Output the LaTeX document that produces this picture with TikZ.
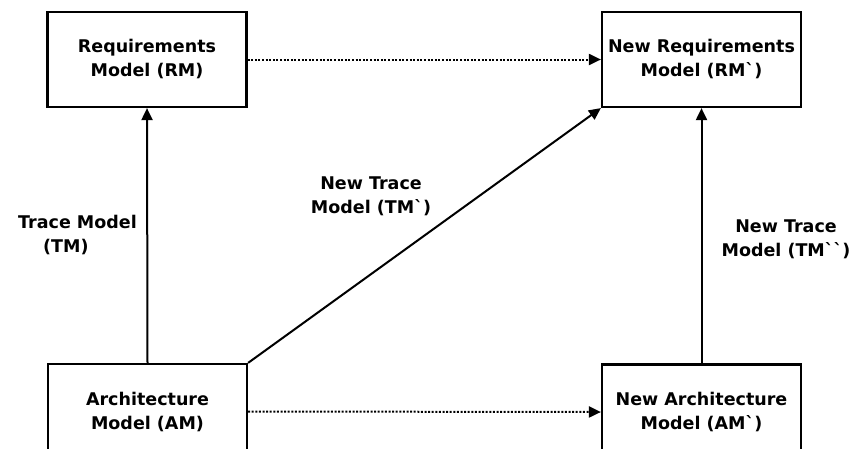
\documentclass[tikz,border=0pt]{standalone}
\usepackage{fontspec}
\setmainfont{DejaVu Sans}[Ligatures=TeXOff]
\usetikzlibrary{arrows.meta}
\begin{document}
\begin{tikzpicture}[x=1pt,y=-1pt,
  font=\fontsize{17.5}{24}\selectfont\bfseries,
  model/.style={draw,line width=2.2pt,minimum width=199pt,minimum height=95pt,align=center,inner sep=0pt},
  lbl/.style={align=center,inner sep=0pt},
  tip/.style={-{Triangle[length=12pt,width=11pt]}},
  solidarrow/.style={tip,line width=2pt},
  dotarrow/.style={tip,line width=2pt,dash pattern=on 2pt off 1.6pt}]
  \useasboundingbox (0,0) rectangle (854,448);
  \clip (0,0) rectangle (854,448);
  % model boxes
  \node[model] (rm)  at (147,59.5)  {Requirements\\Model (RM)};
  \node[model] (rm2) at (701.5,59.5) {New Requirements\\Model (RM`)};
  \node[model] (am)  at (147.5,411.5) {Architecture\\Model (AM)};
  \node[model] (am2) at (701.5,412) {New Architecture\\Model (AM`)};
  % connectors
  \draw[dotarrow] (rm.east) -- (rm2.west);
  \draw[dotarrow] (am.east) -- (am2.west);
  \draw[solidarrow] (am.north) -- (rm.south);
  \draw[solidarrow] (am2.north) -- (rm2.south);
  \draw[solidarrow] (am.north east) -- (rm2.south west);
  % trace labels
  \node[lbl,align=left,anchor=west] (tm)  at (18,235) {Trace Model\\\hspace*{25pt}(TM)};
  \node[lbl] (tm2) at (371,196) {New Trace\\Model (TM`)};
  \node[lbl] (tm3) at (786,239) {New Trace\\Model (TM``)};
\end{tikzpicture}
\end{document}
